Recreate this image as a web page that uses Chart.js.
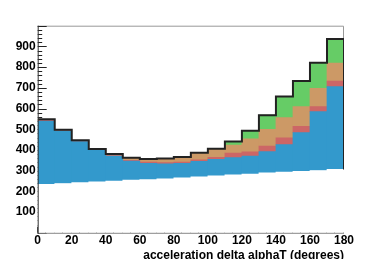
<!DOCTYPE html>
<html>
<head>
<meta charset="utf-8">
<script src="https://cdn.jsdelivr.net/npm/chart.js@4/dist/chart.umd.min.js"></script>
<style>
  html, body { margin: 0; padding: 0; background: #fff; }
</style>
</head>
<body>
<canvas id="c" width="382" height="259"></canvas>
<script>
// 10 degree bins, 0..180
const binCenters = [5, 15, 25, 35, 45, 55, 65, 75, 85, 95, 105, 115, 125, 135, 145, 155, 165, 175]
const binEdges = [0, 10, 20, 30, 40, 50, 60, 70, 80, 90, 100, 110, 120, 130, 140, 150, 160, 170, 180]

// stacked contents, bottom to top (the bottom one is white)
const base = [234, 238, 242, 246, 250, 254, 257, 261, 266, 270, 275, 280, 284, 289, 293, 297, 301, 306]
const blue = [306, 253, 198, 152, 120, 92, 79, 72, 70, 75, 80, 83, 87, 103, 133, 187, 284, 400]
const red = [3, 3, 3, 2, 3, 4, 5, 6, 6, 7, 9, 22, 20, 27, 32, 30, 24, 27]
const tan = [5, 4, 4, 5, 7, 12, 15, 20, 24, 33, 39, 38, 63, 81, 98, 95, 89, 86]
const green = [0, 0, 0, 0, 0, 0, 0, 0, 0, 1, 3, 18, 39, 68, 102, 124, 123, 117]

const yTickLabels = ['100', '200', '300', '400', '500', '600', '700', '800', '900']
const xTickLabels = ['0', '20', '40', '60', '80', '100', '120', '140', '160', '180']
const xTitle = 'acceleration delta alphaT (degrees)'

const font = 'Liberation Sans'

let pts = (vals) => vals.map((v, i) => ({ x: binCenters[i], y: v }))
let totals = base.map((b, i) => b + blue[i] + red[i] + tan[i] + green[i])
let outline = binEdges.map((x, i) => ({ x: x, y: totals[Math.min(i, totals.length - 1)] }))
outline.push({ x: binEdges[binEdges.length - 1], y: base[base.length - 1] })

// ROOT style frame: ticks inside, hidden by the fill
const rootAxes = {
  id: 'rootAxes',
  beforeDatasetsDraw(chart) {
    const { ctx, chartArea: a, scales: { x, y } } = chart
    ctx.save()
    ctx.lineWidth = 1
    ctx.strokeStyle = '#999'
    ctx.beginPath()
    ctx.moveTo(a.left, a.top + 0.5)
    ctx.lineTo(a.right - 0.5, a.top + 0.5)
    ctx.lineTo(a.right - 0.5, a.bottom)
    ctx.stroke()

    ctx.strokeStyle = '#222'
    ctx.beginPath()
    for (let v = 0; v <= 1000; v += 20) {
      let py = Math.round(y.getPixelForValue(v)) + 0.5
      let len = v % 100 === 0 ? 9 : 4.5
      ctx.moveTo(a.left, py)
      ctx.lineTo(a.left + len, py)
    }
    for (let v = 0; v <= 180; v += 5) {
      let px = Math.round(x.getPixelForValue(v)) - 0.5
      let len = v % 20 === 0 ? 6 : 3
      ctx.moveTo(px, a.bottom)
      ctx.lineTo(px, a.bottom - len)
    }
    ctx.stroke()
    ctx.restore()
  },
  afterDatasetsDraw(chart) {
    const { ctx, chartArea: a } = chart
    ctx.save()
    ctx.lineWidth = 1
    ctx.strokeStyle = '#888'
    ctx.beginPath()
    ctx.moveTo(a.left, a.bottom + 0.5)
    ctx.lineTo(a.right, a.bottom + 0.5)
    ctx.stroke()
    ctx.strokeStyle = '#333'
    ctx.beginPath()
    ctx.moveTo(a.left + 0.5, a.top)
    ctx.lineTo(a.left + 0.5, a.bottom + 1)
    ctx.stroke()
    ctx.restore()
  },
}

let layer = (label, vals, color) => ({
  type: 'bar',
  label: label,
  data: pts(vals),
  backgroundColor: color,
  borderWidth: 0,
  barPercentage: 1,
  categoryPercentage: 1,
})

new Chart(document.getElementById('c'), {
  type: 'bar',
  data: {
    datasets: [
      layer('base', base, '#ffffff'),
      layer('blue', blue, '#3399cc'),
      layer('red', red, '#cc6666'),
      layer('tan', tan, '#cc9966'),
      layer('green', green, '#66cc66'),
      {
        type: 'line',
        label: 'total',
        data: outline,
        stack: 'outline',
        stepped: 'before',
        borderColor: '#222',
        borderWidth: 2,
        pointRadius: 0,
        fill: false,
        order: -1,
      },
    ],
  },
  options: {
    responsive: false,
    animation: false,
    layout: { padding: { top: 25.7, right: 38, left: 0, bottom: 0 } },
    plugins: { legend: { display: false }, tooltip: { enabled: false } },
    scales: {
      x: {
        type: 'linear',
        min: 0,
        max: 180,
        offset: false,
        stacked: true,
        grid: { display: false, drawTicks: false },
        border: { display: false },
        ticks: {
          stepSize: 20,
          padding: 1,
          autoSkip: false,
          maxRotation: 0,
          color: '#000',
          font: { family: font, size: 12, weight: 'bold' },
          callback: (v) => (xTickLabels.includes(String(v)) ? String(v) : ''),
        },
        title: {
          display: true,
          text: xTitle,
          align: 'end',
          color: '#000',
          padding: 0,
          font: { family: font, size: 12, weight: 'bold', lineHeight: 0.6 },
        },
        afterFit: (s) => { s.height = 26.2 },
      },
      y: {
        min: 0,
        max: 1000,
        stacked: true,
        grid: { display: false, drawTicks: false },
        border: { display: false },
        ticks: {
          stepSize: 100,
          padding: 2,
          color: '#000',
          font: { family: font, size: 12, weight: 'bold' },
          callback: (v) => (yTickLabels.includes(String(v)) ? String(v) : ''),
        },
        afterFit: (s) => { s.width = 37.7 },
      },
    },
  },
  plugins: [rootAxes],
})
</script>
</body>
</html>
